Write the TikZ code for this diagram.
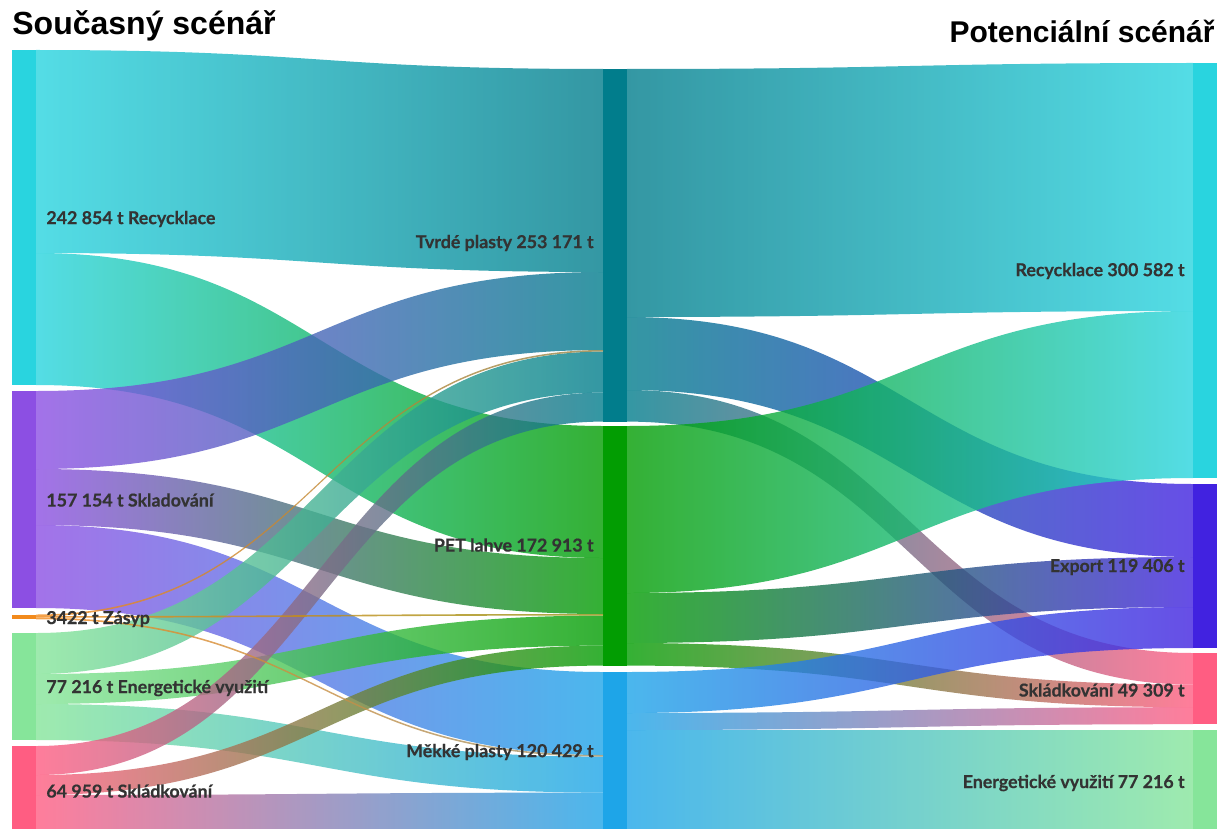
\documentclass[tikz,border=0pt]{standalone}
\usepackage{fontspec}
\setmainfont{Lato}
\newfontfamily\labfont{Lato}[BoldFeatures={FakeBold=0.5}]
\newfontfamily\headfont{Liberation Sans}
\usepackage{tikz}
\usetikzlibrary{calc, fit}

\definecolor{recC}{HTML}{29D4DF}
\definecolor{sklC}{HTML}{8C4FE3}
\definecolor{zasC}{HTML}{F28A1C}
\definecolor{enC}{HTML}{86E59A}
\definecolor{skdC}{HTML}{FF5D82}
\definecolor{tvrC}{HTML}{017D8C}
\definecolor{petC}{HTML}{029D02}
\definecolor{mekC}{HTML}{1EA5E8}
\definecolor{expC}{HTML}{4122E0}
\definecolor{labText}{HTML}{333333}

% band between two bars: source, offset, target, offset, width, colours
\newcommand{\flow}[7]{%
    \path[band, left color=#6, right color=#7]
        let \p1=($(#1.north east)+(0,#2)$), \p2=($(#3.north west)+(0,#4)$),
            \p3=($(\p1)!0.5!(\p2)$), \n2={#5*0.5pt} in
        (\p1) .. controls (\x3,\y1) and (\x3,\y2) .. (\p2)
        -- (\x2,{\y2-\n2}) .. controls (\x3,{\y2-\n2}) and (\x3,{\y1-\n2}) .. (\x1,{\y1-\n2})
        -- cycle;
}

\begin{document}
\begin{tikzpicture}[
    x=0.5pt, y=-0.5pt,
    bar/.style={inner sep=0pt, outer sep=0pt, draw=none},
    band/.style={fill opacity=0.8},
    lab/.style={font=\labfont\bfseries\fontsize{8.9}{10.5}\selectfont, text=labText, inner sep=1pt},
    head/.style={font=\headfont\bfseries, inner sep=0pt},
]
    \useasboundingbox (0,0) rectangle (1220,829);
    \clip (0,0) rectangle (1220,829);

    % Left bars (current scenario)
    \foreach \n/\t/\b/\c in {L1/50/385/recC, L2/391/608/sklC, L3/614.5/619.3/zasC, L4/633/740/enC, L5/746/839/skdC} {
        \node[bar, fill=\c, fit={(12,\t) (36,\b)}] (\n) {};
    }

    % Middle bars (plastic types)
    \foreach \n/\t/\b/\c in {M1/69/421.6/tvrC, M2/426/665.6/petC, M3/672/836.6/mekC} {
        \node[bar, fill=\c, fit={(603,\t) (627,\b)}] (\n) {};
    }

    % Right bars (potential scenario)
    \foreach \n/\t/\b/\c in {R1/63/478/recC, R2/484/648/expC, R3/653/724.2/skdC, R4/730/836.6/enC} {
        \node[bar, fill=\c, fit={(1193,\t) (1217,\b)}] (\n) {};
    }

    % Flows left -> middle
    \foreach \src/\so/\dst/\dof/\w/\ca/\cb in {
        L1/0/M1/0/203/recC/tvrC,
        L1/203/M2/0/132/recC/petC,
        L2/0/M1/203/78/sklC/tvrC,
        L2/78/M2/132/56/sklC/petC,
        L2/134/M3/0/83/sklC/mekC,
        L4/0/M1/282.6/41/enC/tvrC,
        L4/41/M2/189.6/30/enC/petC,
        L4/71/M3/84.6/36/enC/mekC,
        L5/0/M1/323.6/29/skdC/tvrC,
        L5/29/M2/219.6/20/skdC/petC,
        L5/49/M3/120.6/44/skdC/mekC,
        L3/0/M1/281/1.6/zasC/zasC!60!tvrC,
        L3/1.6/M2/188/1.6/zasC/zasC!60!petC,
        L3/3.2/M3/83/1.6/zasC/zasC!60!mekC} {
        \flow{\src}{\so}{\dst}{\dof}{\w}{\ca}{\cb}
    }

    % Flows middle -> right
    \foreach \src/\so/\dst/\dof/\w/\ca/\cb in {
        M1/0/R1/0/248/tvrC/recC,
        M1/248/R2/0/73/tvrC/expC,
        M1/321/R3/0/31.6/tvrC/skdC,
        M2/0/R1/248/167/petC/recC,
        M2/167/R2/73/50/petC/expC,
        M2/217/R3/31.6/22.6/petC/skdC,
        M3/0/R2/123/41/mekC/expC,
        M3/41/R3/54.2/17/mekC/skdC,
        M3/58/R4/0/106.6/mekC/enC} {
        \flow{\src}{\so}{\dst}{\dof}{\w}{\ca}{\cb}
    }

    % Labels
    \node[lab, anchor=west] (tL1) at (44,219) {242 854 t Recycklace};
    \node[lab, anchor=west] (tL2) at (44,500) {157 154 t Skladování};
    \node[lab, anchor=west] (tL3) at (44,619) {3422 t Zásyp};
    \node[lab, anchor=west] (tL4) at (44,688) {77 216 t Energetické využití};
    \node[lab, anchor=west] (tL5) at (44,791) {64 959 t Skládkování};
    \node[lab, anchor=east] (tM1) at (596,243) {Tvrdé plasty 253 171 t};
    \node[lab, anchor=east] (tM2) at (596,545) {PET lahve 172 913 t};
    \node[lab, anchor=east] (tM3) at (596,752) {Měkké plasty 120 429 t};
    \node[lab, anchor=east] (tR1) at (1187,271) {Recycklace 300 582 t};
    \node[lab, anchor=east] (tR2) at (1187,567) {Export 119 406 t};
    \node[lab, anchor=east] (tR3) at (1187,690) {Skládkování 49 309 t};
    \node[lab, anchor=east] (tR4) at (1187,783) {Energetické využití 77 216 t};

    % Titles
    \node[head, font=\headfont\bfseries\fontsize{16}{19}\selectfont, anchor=base west] (now) at (12,35) {Současný scénář};
    \node[head, font=\headfont\bfseries\fontsize{15}{18}\selectfont, anchor=base east] (pot) at (1215,43) {Potenciální scénář};
\end{tikzpicture}
\end{document}
